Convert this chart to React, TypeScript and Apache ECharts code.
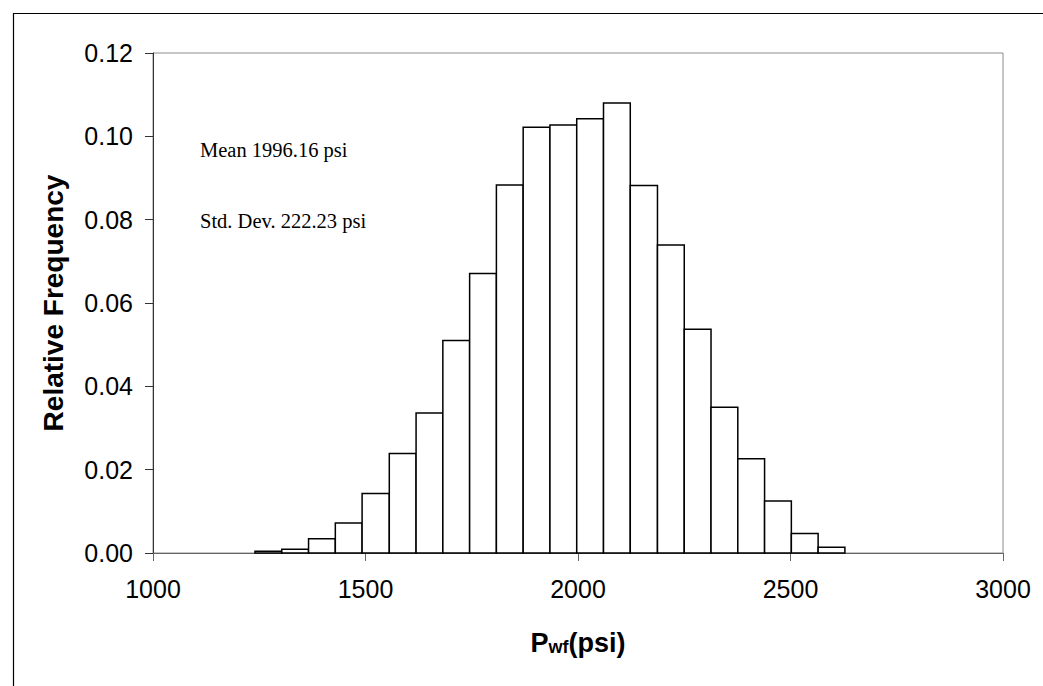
import React, { useEffect, useRef } from "react";
import * as echarts from "echarts";

// Histogram bin edges (psi) and relative frequencies
const binEdges: number[] = [
  1240, 1303, 1366, 1429, 1492, 1556, 1619, 1682, 1745, 1808, 1871, 1934,
  1997, 2060, 2123, 2187, 2250, 2313, 2376, 2439, 2502, 2565, 2628,
];
const frequencies: number[] = [
  0.0004, 0.0009, 0.0034, 0.0072, 0.0143, 0.0239, 0.0336, 0.051, 0.0671,
  0.0883, 0.1022, 0.1027, 0.1042, 0.108, 0.0882, 0.0739, 0.0537, 0.035,
  0.0226, 0.0125, 0.0047, 0.0014,
];
const xTicks: number[] = [1000, 1500, 2000, 2500, 3000];
const yTicks: number[] = [0, 0.02, 0.04, 0.06, 0.08, 0.1, 0.12];
const statLabels: string[] = ["Mean 1996.16 psi", "Std. Dev. 222.23 psi"];

export default function App() {
  const ref = useRef<HTMLDivElement>(null);

  useEffect(() => {
    document.body.style.margin = "0";
    if (!ref.current) return;
    const chart = echarts.init(ref.current, null, { renderer: "svg" });
    const data = frequencies.map((f, i) => [binEdges[i], binEdges[i + 1], f]);
    const axisFont = "'Liberation Sans', Arial, sans-serif";
    chart.setOption({
      animation: false,
      backgroundColor: "#ffffff",
      grid: {
        left: 153,
        top: 53,
        width: 850,
        height: 500,
        show: true,
        borderColor: "#8c8c8c",
        borderWidth: 1,
        backgroundColor: "#ffffff",
      },
      xAxis: {
        type: "value",
        min: xTicks[0],
        max: xTicks[xTicks.length - 1],
        interval: xTicks[1] - xTicks[0],
        splitLine: { show: false },
        axisLine: { show: true, lineStyle: { color: "#666666", width: 1 } },
        axisTick: { show: true, length: 8, lineStyle: { color: "#666666" } },
        axisLabel: {
          fontFamily: axisFont,
          fontSize: 25,
          color: "#000000",
          margin: 23,
          formatter: (v: number) => String(v),
        },
        name: "{a|P}{b|wf}{a|(psi)}",
        nameLocation: "middle",
        nameGap: 76,
        nameTextStyle: {
          rich: {
            a: {
              fontFamily: axisFont,
              fontSize: 27,
              fontWeight: "bold",
              color: "#000",
              verticalAlign: "bottom",
            },
            b: {
              fontFamily: axisFont,
              fontSize: 18,
              fontWeight: "bold",
              color: "#000",
              verticalAlign: "bottom",
            },
          },
        },
      },
      yAxis: {
        type: "value",
        min: yTicks[0],
        max: yTicks[yTicks.length - 1],
        interval: yTicks[1] - yTicks[0],
        splitLine: { show: false },
        axisLine: { show: true, lineStyle: { color: "#333333", width: 1 } },
        axisTick: { show: true, length: 8, lineStyle: { color: "#333333" } },
        axisLabel: {
          fontFamily: axisFont,
          fontSize: 25,
          color: "#000000",
          margin: 20,
          formatter: (v: number) => v.toFixed(2),
        },
        name: "Relative Frequency",
        nameLocation: "middle",
        nameRotate: 90,
        nameGap: 86,
        nameTextStyle: {
          fontFamily: axisFont,
          fontSize: 28,
          fontWeight: "bold",
          color: "#000",
        },
      },
      series: [
        {
          type: "custom",
          data,
          encode: { x: [0, 1], y: 2 },
          renderItem: (params: any, api: any) => {
            const p0 = api.coord([api.value(0), api.value(2)]);
            const p1 = api.coord([api.value(1), 0]);
            return {
              type: "rect",
              shape: {
                x: p0[0],
                y: p0[1],
                width: p1[0] - p0[0],
                height: p1[1] - p0[1],
              },
              style: { fill: "#ffffff", stroke: "#000000", lineWidth: 1.5 },
            };
          },
        },
      ],
      graphic: [
        {
          type: "rect",
          left: 11,
          top: 11,
          shape: { x: 0, y: 0, width: 1200, height: 800 },
          style: { fill: "none", stroke: "#000000", lineWidth: 1.2 },
          silent: true,
          z: -1,
        },
        {
          type: "text",
          x: 200,
          y: 149.5,
          style: {
            text: statLabels[0],
            fontFamily: "'Liberation Serif', 'Times New Roman', serif",
            fontSize: 20.5,
            fill: "#000",
            verticalAlign: "middle",
          },
        },
        {
          type: "text",
          x: 200,
          y: 221,
          style: {
            text: statLabels[1],
            fontFamily: "'Liberation Serif', 'Times New Roman', serif",
            fontSize: 20.5,
            fill: "#000",
            verticalAlign: "middle",
          },
        },
      ],
    });
    return () => chart.dispose();
  }, []);

  return <div ref={ref} style={{ width: 1043, height: 686 }} />;
}
